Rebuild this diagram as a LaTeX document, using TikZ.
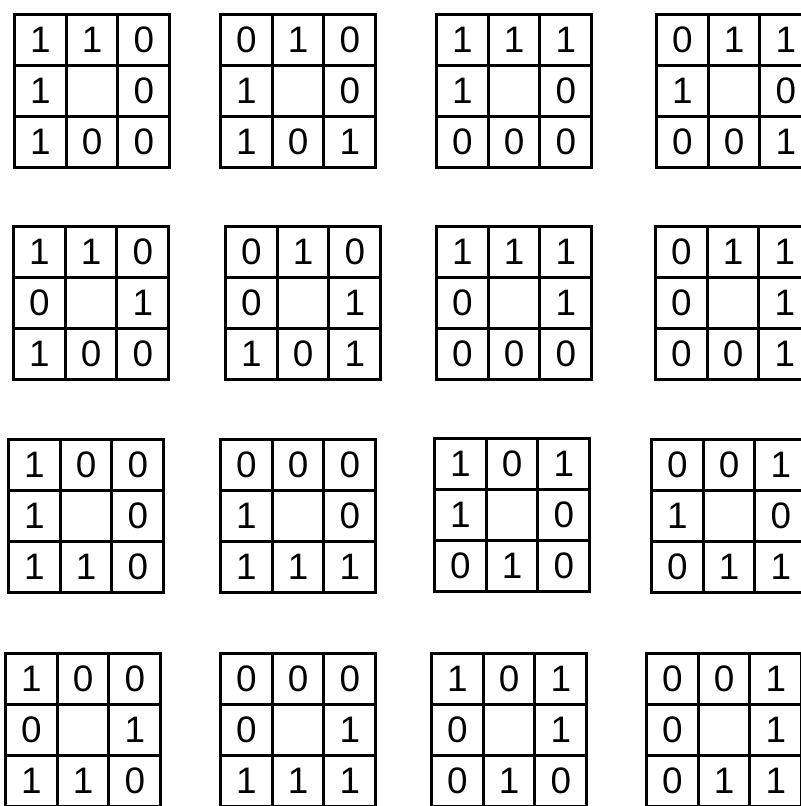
\documentclass[tikz,border=0pt]{standalone}
\usepackage{fontspec}
\setmainfont{Liberation Sans}
\tikzset{
  cellbox/.style={draw, line width=3bp, minimum width=51.7bp, minimum height=51bp,
    inner sep=0pt, anchor=north west, font=\fontsize{37}{37}\selectfont},
}
\newcommand\mymat[4]{%
  \foreach \v [count=\i from 0] in {#4} {
    \pgfmathtruncatemacro\rr{\i/3}
    \pgfmathtruncatemacro\cc{mod(\i,3)}
    \node[cellbox] (#1-\i) at ({#2+\cc*51.7},{#3+\rr*51}) {\v};
  }%
}
\begin{document}
\begin{tikzpicture}[x=1bp,y=-1bp]
\clip (0,0) rectangle (801,806);
\fill[white] (0,0) rectangle (801,806);
% row 1
\mymat{a1}{13}{13}{1,1,0,1,{},0,1,0,0}
\mymat{a2}{219}{13}{0,1,0,1,{},0,1,0,1}
\mymat{a3}{435}{13}{1,1,1,1,{},0,0,0,0}
\mymat{a4}{655}{13}{0,1,1,1,{},0,0,0,1}
% row 2
\mymat{b1}{12}{225}{1,1,0,0,{},1,1,0,0}
\mymat{b2}{224}{225}{0,1,0,0,{},1,1,0,1}
\mymat{b3}{435}{225}{1,1,1,0,{},1,0,0,0}
\mymat{b4}{654}{225}{0,1,1,0,{},1,0,0,1}
% row 3
\mymat{c1}{7}{438}{1,0,0,1,{},0,1,1,0}
\mymat{c2}{219}{438}{0,0,0,1,{},0,1,1,1}
\mymat{c3}{433}{437}{1,0,1,1,{},0,0,1,0}
\mymat{c4}{650}{438}{0,0,1,1,{},0,0,1,1}
% row 4
\mymat{d1}{4}{652}{1,0,0,0,{},1,1,1,0}
\mymat{d2}{219}{652}{0,0,0,0,{},1,1,1,1}
\mymat{d3}{430}{652}{1,0,1,0,{},1,0,1,0}
\mymat{d4}{645}{652}{0,0,1,0,{},1,0,1,1}
\end{tikzpicture}
\end{document}
